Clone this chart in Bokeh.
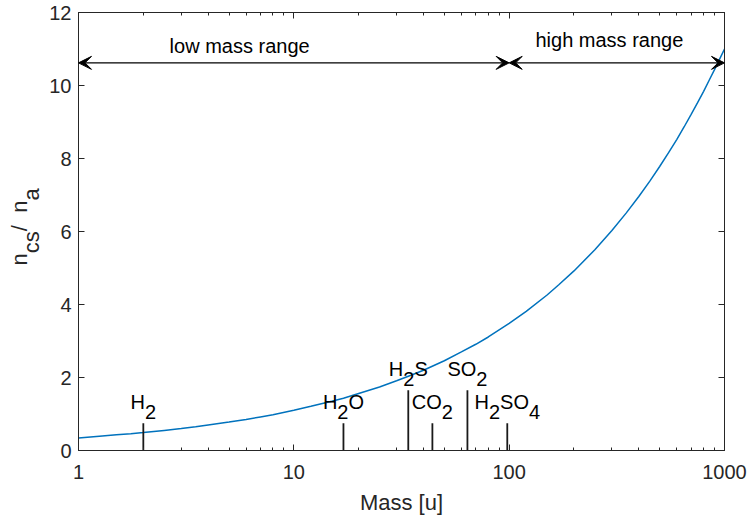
import math
from bokeh.plotting import figure
from bokeh.layouts import row
from bokeh.models import (FixedTicker, LogAxis, LinearAxis, Arrow, VeeHead,
                          ColumnDataSource, Range1d)
from bokeh.embed import file_html
from bokeh.resources import INLINE
from bokeh.core.properties import value

# ---------------- data ----------------
mass = [1, 1.25, 1.5, 1.75, 2, 2.5, 3, 3.5, 4, 5, 6, 7, 8, 10, 12, 15, 17, 20,
        25, 30, 35, 40, 50, 60, 70, 80, 100, 120, 150, 170, 200, 250, 300,
        350, 400, 450, 500, 550, 600, 650, 700, 750, 800, 850, 900, 950, 1000]
ratio = [0.34, 0.39, 0.43, 0.46, 0.49, 0.55, 0.60, 0.65, 0.70, 0.78, 0.85,
         0.92, 0.98, 1.10, 1.21, 1.35, 1.43, 1.56, 1.74, 1.91, 2.06, 2.20,
         2.46, 2.70, 2.91, 3.11, 3.48, 3.81, 4.26, 4.54, 4.92, 5.50, 6.03,
         6.51, 6.96, 7.38, 7.78, 8.16, 8.52, 8.87, 9.21, 9.53, 9.84, 10.15,
         10.44, 10.73, 11.0]

species = ["H2", "H2O", "H2S", "CO2", "SO2", "H2SO4"]
species_mass = [2, 17, 34, 44, 64, 98]
species_height = [0.75, 0.75, 1.65, 0.75, 1.65, 0.75]

range_edges = [1, 100, 1000]
range_names = ["low mass range", "high mass range"]
range_label_x = [5.6, 292]
range_label_y = [11.07, 11.25]
arrow_y = 10.62

x_ticks = [1, 10, 100, 1000]
x_tick_labels = ["1", "10", "100", "1000"]
y_ticks = [0, 2, 4, 6, 8, 10, 12]
x_lim = [1, 1000]
y_lim = [0, 12]
y_label_pieces = [("n", False), ("cs", True), (" / ", False), ("n", False), ("a", True)]

# ---------------- styling ----------------
FONT = "Liberation Sans"
AX = "#262626"
BLUE = "#0072BD"
ADV = {"H": 722, "O": 778, "S": 667, "C": 722, "n": 556, "c": 500, "s": 500,
       "a": 556, " ": 278, "/": 278}
for d in "0123456789":
    ADV[d] = 556
MID = 0.3465  # em-box middle above baseline


def text_width(s, size):
    return sum(ADV.get(ch, 556) for ch in s) * size / 1000.0


def split_formula(name):
    parts = []
    for ch in name:
        sub = ch.isdigit()
        if parts and parts[-1][1] == sub:
            parts[-1] = (parts[-1][0] + ch, sub)
        else:
            parts.append((ch, sub))
    return parts


H = 517
TOP, BOTTOM = 12, 67
LEFTW = 44

p = figure(width=748 - LEFTW, height=H, x_axis_type="log",
           x_range=Range1d(*x_lim), y_range=Range1d(*y_lim),
           output_backend="svg", toolbar_location=None)
p.min_border_left = 78 - LEFTW
p.min_border_right = 24
p.min_border_top = TOP
p.min_border_bottom = BOTTOM
p.background_fill_color = "white"
p.border_fill_color = "white"
p.outline_line_color = AX
p.outline_line_width = 1
p.xgrid.visible = False
p.ygrid.visible = False

minor = [m * 10 ** e for e in range(3) for m in range(2, 10)]
xticker = FixedTicker(ticks=x_ticks, minor_ticks=minor)
yticker = FixedTicker(ticks=y_ticks, minor_ticks=[])

for ax in (p.xaxis[0], p.yaxis[0]):
    ax.axis_line_color = AX
    ax.major_tick_line_color = AX
    ax.minor_tick_line_color = AX
    ax.major_tick_in = 6
    ax.major_tick_out = 0
    ax.minor_tick_in = 3
    ax.minor_tick_out = 0
    ax.major_label_text_font = FONT
    ax.major_label_text_font_size = "20px"
    ax.major_label_text_color = AX
    ax.axis_label_text_font = FONT
    ax.axis_label_text_font_size = "22px"
    ax.axis_label_text_font_style = "normal"
    ax.axis_label_text_color = AX

p.xaxis[0].ticker = xticker
p.xaxis[0].major_label_overrides = {t: l for t, l in zip(x_ticks, x_tick_labels)}
p.xaxis[0].major_label_standoff = 14
p.xaxis[0].axis_label = "Mass [u]"
p.xaxis[0].axis_label_standoff = 8

p.yaxis[0].ticker = yticker
p.yaxis[0].major_label_standoff = 7

top = LogAxis(ticker=xticker, major_label_text_font_size="8px",
              major_label_text_alpha=0, major_label_standoff=0, axis_line_color=AX,
              major_tick_line_color=AX, minor_tick_line_color=AX,
              major_tick_in=6, major_tick_out=0, minor_tick_in=3, minor_tick_out=0)
right = LinearAxis(ticker=yticker, major_label_text_font_size="8px",
                   major_label_text_alpha=0, major_label_standoff=0, axis_line_color=AX,
                   major_tick_line_color=AX, minor_tick_line_color=AX,
                   major_tick_in=6, major_tick_out=0, minor_tick_in=0, minor_tick_out=0)
p.add_layout(top, "above")
p.add_layout(right, "right")

# curve
p.line(mass, ratio, line_color=BLUE, line_width=1.5)

# stems
p.segment(x0=species_mass, y0=[0] * len(species_mass), x1=species_mass,
          y1=species_height, line_color="#1a1a1a", line_width=1.8)

# species labels (digits as subscripts)
FS = 20
lx, ly, lt, lxo, lyo = [], [], [], [], []
for name, m, h in zip(species, species_mass, species_height):
    parts = split_formula(name)
    total = sum(text_width(t, FS) for t, _ in parts)
    cum = -total / 2
    for t, sub in parts:
        lx.append(m)
        ly.append(h)
        lt.append(t)
        lxo.append(cum)
        lyo.append((-4.0 if sub else -14.0) - MID * FS)
        cum += text_width(t, FS)
src = ColumnDataSource(dict(x=lx, y=ly, text=lt, xo=lxo, yo=lyo))
p.text(x="x", y="y", text="text", x_offset="xo", y_offset="yo", source=src,
       text_align="left", text_baseline="middle",
       text_font=value(FONT), text_font_size=f"{FS}px", text_color="#000000")

# range arrows
for i in range(len(range_names)):
    p.add_layout(Arrow(x_start=range_edges[i], y_start=arrow_y,
                       x_end=range_edges[i + 1], y_end=arrow_y,
                       start=VeeHead(size=13, fill_color="black", line_color="black", line_width=1),
                       end=VeeHead(size=13, fill_color="black", line_color="black", line_width=1),
                       line_color="black", line_width=1.2))
p.text(x=range_label_x, y=range_label_y, text=range_names,
       text_align="center", text_baseline="middle",
       text_font=value(FONT), text_font_size="20px", text_color="#000000")

# ---------------- left strip holding the y-axis label (with subscripts) ----------------
q = figure(width=LEFTW, height=H, x_range=Range1d(0, LEFTW), y_range=Range1d(*y_lim),
           output_backend="svg", toolbar_location=None,
           x_axis_location=None, y_axis_location=None)
q.min_border_left = 0
q.min_border_right = 0
q.min_border_top = TOP
q.min_border_bottom = BOTTOM
q.outline_line_color = None
q.background_fill_color = "white"
q.border_fill_color = "white"
q.xgrid.visible = False
q.ygrid.visible = False

YFS = 22
ytotal = sum(text_width(t, YFS) for t, _ in y_label_pieces)
ymid = (y_lim[0] + y_lim[1]) / 2
base_main = 26.7
sub_shift = 11.5
qx, qy, qt, qyo = [], [], [], []
cum = 0.0
for t, sub in y_label_pieces:
    qx.append(base_main + (sub_shift if sub else 0) - MID * YFS)
    qy.append(ymid)
    qt.append(t)
    qyo.append(-4.6 + ytotal / 2 - cum)
    cum += text_width(t, YFS)
qsrc = ColumnDataSource(dict(x=qx, y=qy, text=qt, yo=qyo))
q.text(x="x", y="y", text="text", y_offset="yo", source=qsrc, angle=math.pi / 2,
       text_align="left", text_baseline="middle",
       text_font=value(FONT), text_font_size=f"{YFS}px", text_color=AX)

layout = row(q, p)
open("out.html", "w").write(file_html(layout, INLINE))
